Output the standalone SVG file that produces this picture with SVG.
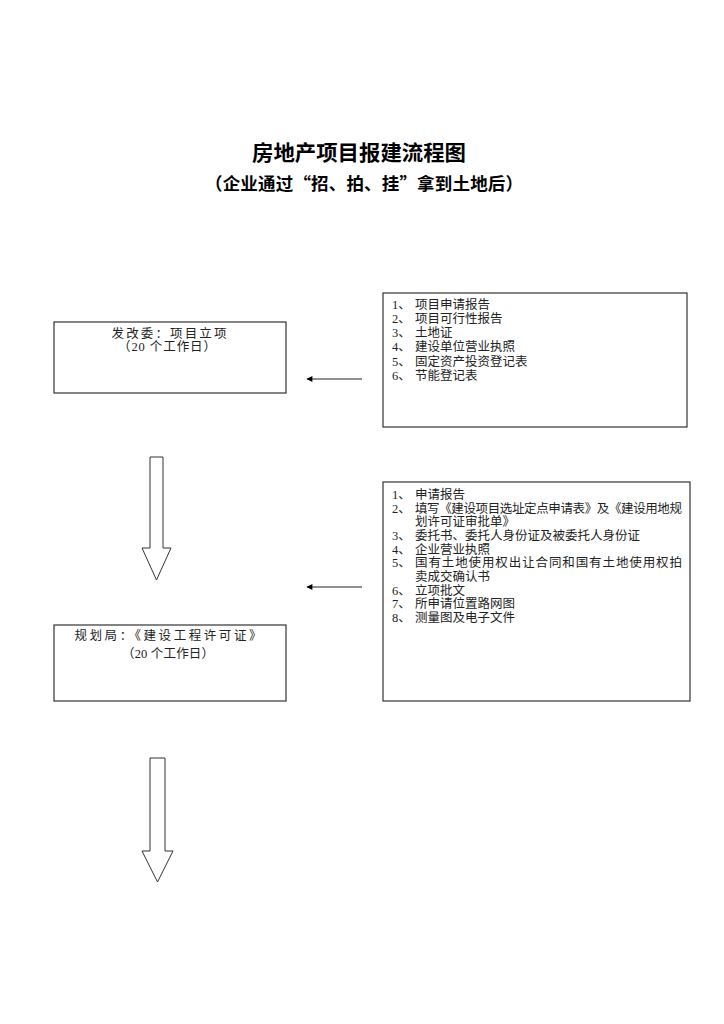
<svg xmlns="http://www.w3.org/2000/svg" width="724" height="1024" viewBox="0 0 724 1024">
<style>
.t{font-family:"Liberation Serif","Noto Sans CJK SC",serif;font-size:12.5px;fill:#222}
.c{text-anchor:middle}
.h{font-family:"Noto Sans CJK SC",sans-serif;font-weight:bold;fill:#000;text-anchor:middle}
.box{fill:#fff;stroke:#333;stroke-width:1.2}
.blk{fill:#fff;stroke:#333;stroke-width:1}
.ln{stroke:#222;stroke-width:1.2;fill:none}
</style>
<defs>
<marker id="ah" viewBox="0 0 10 10" refX="9" refY="5" markerWidth="8" markerHeight="6" markerUnits="userSpaceOnUse" orient="auto">
<path d="M0,0 L10,5 L0,10 z" fill="#000"/>
</marker>
</defs>
<rect width="724" height="1024" fill="#fff"/>
<g id="title">
<text class="h" x="359" y="160" font-size="21" textLength="214" lengthAdjust="spacingAndGlyphs">房地产项目报建流程图</text>
<text class="h" x="364" y="190" font-size="17.5" textLength="318" lengthAdjust="spacing">（企业通过“招、拍、挂”拿到土地后）</text>
</g>
<g id="node-fgw">
<rect class="box" x="54" y="322" width="232" height="71"/>
<text class="t c" x="169" y="338" textLength="115" lengthAdjust="spacing">发改委：项目立项</text>
<text class="t c" x="167" y="351" textLength="98" lengthAdjust="spacing">（20 个工作日）</text>
</g>
<g id="node-docs1">
<rect class="box" x="383" y="293" width="304" height="134"/>
<g class="t">
<text x="392" y="309">1、</text><text x="415" y="309">项目申请报告</text>
<text x="392" y="323">2、</text><text x="415" y="323">项目可行性报告</text>
<text x="392" y="337">3、</text><text x="415" y="337">土地证</text>
<text x="392" y="351">4、</text><text x="415" y="351">建设单位营业执照</text>
<text x="392" y="366">5、</text><text x="415" y="366">固定资产投资登记表</text>
<text x="392" y="380">6、</text><text x="415" y="380">节能登记表</text>
</g>
</g>
<g id="node-ghj">
<rect class="box" x="54" y="625" width="232" height="76"/>
<text class="t c" x="168" y="640" textLength="187" lengthAdjust="spacing">规划局：《建设工程许可证》</text>
<text class="t c" x="168" y="658" textLength="92" lengthAdjust="spacing">（20 个工作日）</text>
</g>
<g id="node-docs2">
<rect class="box" x="383" y="482" width="307" height="219"/>
<g class="t">
<text x="392" y="499">1、</text><text x="415" y="499">申请报告</text>
<text x="392" y="513">2、</text><text x="415" y="513" textLength="267" lengthAdjust="spacing">填写《建设项目选址定点申请表》及《建设用地规</text>
<text x="415" y="526">划许可证审批单》</text>
<text x="392" y="540">3、</text><text x="415" y="540">委托书、委托人身份证及被委托人身份证</text>
<text x="392" y="554">4、</text><text x="415" y="554">企业营业执照</text>
<text x="392" y="567">5、</text><text x="415" y="567" textLength="267" lengthAdjust="spacing">国有土地使用权出让合同和国有土地使用权拍</text>
<text x="415" y="581">卖成交确认书</text>
<text x="392" y="595">6、</text><text x="415" y="595">立项批文</text>
<text x="392" y="608">7、</text><text x="415" y="608">所申请位置路网图</text>
<text x="392" y="622">8、</text><text x="415" y="622">测量图及电子文件</text>
</g>
</g>
<g id="connectors">
<line class="ln" x1="362" y1="379" x2="307" y2="379" marker-end="url(#ah)"/>
<line class="ln" x1="362" y1="587" x2="307" y2="587" marker-end="url(#ah)"/>
<polygon class="blk" points="150,457 163,457 163,548 171,548 156.5,580 142,548 150,548"/>
<polygon class="blk" points="150,758 165,758 165,851 173,851 157.5,882 142,851 150,851"/>
</g>
</svg>
